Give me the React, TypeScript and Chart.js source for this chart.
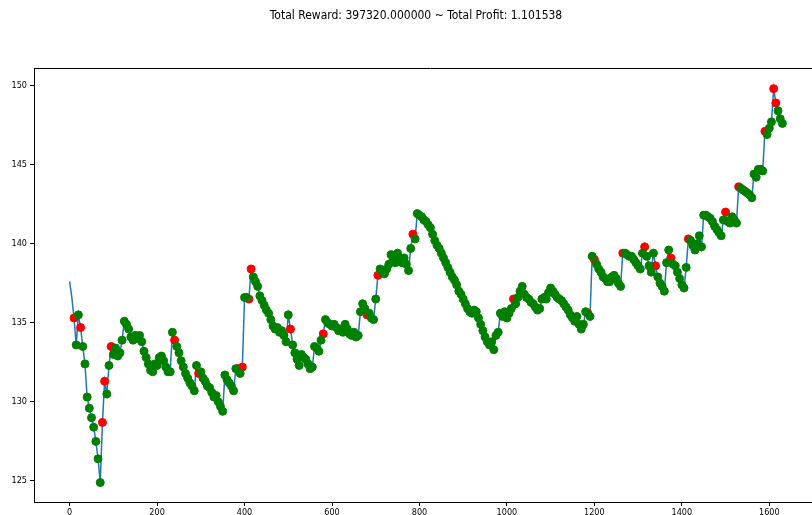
import React, { useEffect, useRef } from 'react';
import { Chart, registerables } from 'chart.js';

Chart.register(...registerables);

const TITLE = 'Total Reward: 397320.000000 ~ Total Profit: 1.101538';

// price sampled every TICK_STEP ticks, starting at tick 0
const TICK_STEP = 5;
const FIRST_POSITION_TICK = 10;

const prices: number[] = [
  137.6, 136.6, 135.3, 133.6, 135.5, 134.7, 133.5, 132.4, 130.3, 129.6, 129.0, 128.4, 127.5, 126.4, 124.9, 128.7, 131.3, 130.5, 132.3, 133.5,
  133.0, 133.4, 132.9, 133.1, 133.9, 135.1, 134.9, 134.6, 134.1, 133.9, 134.2, 134.0, 134.2, 133.8, 133.2, 132.8, 132.4, 132.0, 131.9, 132.4,
  132.3, 132.8, 132.9, 132.6, 132.2, 131.9, 131.9, 134.4, 133.9, 133.5, 133.1, 132.6, 132.2, 131.8, 131.5, 131.2, 131.0, 130.7, 132.3, 131.8,
  131.9, 131.5, 131.3, 131.0, 130.9, 130.6, 130.3, 130.4, 130.0, 129.7, 129.4, 131.7, 131.4, 131.2, 131.0, 130.7, 132.1, 132.1, 131.8, 132.2,
  136.6, 136.6, 136.5, 138.4, 137.9, 137.6, 137.3, 136.7, 136.4, 136.1, 135.8, 135.6, 135.2, 134.8, 134.6, 134.7, 134.4, 134.5, 134.2, 133.8,
  135.5, 134.6, 133.6, 133.1, 132.7, 132.3, 133.0, 132.8, 132.7, 132.4, 132.1, 132.2, 133.5, 133.4, 133.2, 133.9, 134.3, 135.2, 135.0, 134.9,
  134.8, 134.9, 134.7, 134.5, 134.6, 134.4, 134.9, 134.6, 134.3, 134.2, 134.4, 134.1, 134.2, 135.7, 136.2, 135.9, 135.5, 135.6, 135.3, 135.2,
  136.5, 138.0, 138.4, 138.2, 138.1, 138.4, 138.7, 139.3, 139.0, 138.8, 139.4, 139.0, 138.8, 139.1, 138.7, 138.3, 139.7, 140.6, 140.3, 141.9,
  141.8, 141.7, 141.5, 141.4, 141.2, 141.0, 140.6, 140.2, 139.9, 139.7, 139.4, 139.1, 138.8, 138.5, 138.2, 137.9, 137.7, 137.4, 137.0, 136.8,
  136.5, 136.2, 135.9, 135.7, 135.6, 135.8, 135.7, 135.3, 134.9, 134.5, 134.1, 133.8, 133.6, 133.8, 133.3, 134.2, 134.4, 135.6, 135.4, 135.7,
  135.3, 135.6, 135.9, 136.5, 136.2, 136.6, 137.0, 137.3, 136.8, 136.6, 136.5, 136.3, 136.2, 136.0, 135.8, 135.9, 136.5, 136.6, 136.5, 136.9,
  137.2, 137.0, 136.8, 136.6, 136.5, 136.4, 136.2, 136.0, 135.8, 135.5, 135.3, 135.1, 135.4, 134.9, 134.6, 134.9, 135.7, 135.6, 135.4, 139.2,
  139.0, 138.7, 138.4, 138.2, 137.9, 137.8, 137.6, 137.6, 137.9, 138.0, 137.8, 137.5, 137.3, 139.4, 139.4, 139.3, 139.2, 139.2, 139.0, 138.8,
  138.6, 138.4, 139.4, 139.8, 139.2, 138.6, 138.2, 139.4, 138.6, 137.9, 137.5, 137.3, 137.0, 138.8, 139.6, 139.1, 138.7, 138.6, 138.2, 137.8,
  137.4, 137.2, 138.5, 140.3, 140.2, 139.9, 139.6, 140.0, 140.5, 139.8, 141.8, 141.8, 141.7, 141.6, 141.4, 141.1, 140.9, 140.7, 140.5, 141.5,
  142.0, 141.4, 141.3, 141.7, 141.5, 141.3, 143.6, 143.5, 143.4, 143.3, 143.2, 143.1, 142.9, 144.4, 144.2, 144.7, 144.7, 144.6, 147.1, 146.9,
  147.3, 147.7, 149.8, 148.9, 148.4, 147.9, 147.6,
];

// ticks where the position was short (red); all other traded ticks are long (green)
const shortTicks: number[] = [
  10, 25, 75, 80, 95, 240, 295, 385, 395, 410, 415, 505, 580, 680, 705, 785,
  1015, 1185, 1200, 1265, 1315, 1340, 1375, 1415, 1500, 1530, 1590, 1610, 1615,
];

const xTickValues: number[] = [0, 200, 400, 600, 800, 1000, 1200, 1400, 1600];
const yTickValues: number[] = [125, 130, 135, 140, 145, 150];

const X_MIN = -81.5;
const X_MAX = 1732;
const Y_MIN = 123.67;
const Y_MAX = 151.08;

const FONT_FAMILY = "'Liberation Sans Narrow', 'DejaVu Sans Condensed', 'DejaVu Sans', sans-serif";

export default function App() {
  const ref = useRef<HTMLCanvasElement>(null);

  useEffect(() => {
    const pts = prices.map((p, i) => ({ x: i * TICK_STEP, y: p }));
    const shortSet = new Set(shortTicks);
    const traded = pts.filter((pt) => pt.x >= FIRST_POSITION_TICK);
    const red = traded.filter((pt) => shortSet.has(pt.x));
    const green = traded.filter((pt) => !shortSet.has(pt.x));

    const frame = {
      id: 'frame',
      afterDraw(chart: any) {
        const { ctx, chartArea } = chart;
        ctx.save();
        ctx.strokeStyle = '#000';
        ctx.lineWidth = 1;
        ctx.beginPath();
        ctx.moveTo(chartArea.left, Math.round(chartArea.top) + 0.5);
        ctx.lineTo(chartArea.right, Math.round(chartArea.top) + 0.5);
        ctx.stroke();
        ctx.restore();
      },
    };

    const tickFont = { family: FONT_FAMILY, size: 9 };
    const plainLabel = (v: any) => String(v);

    const chart = new Chart(ref.current as HTMLCanvasElement, {
      type: 'scatter',
      data: {
        datasets: [
          {
            type: 'line',
            data: pts,
            borderColor: '#1f77b4',
            borderWidth: 1.5,
            pointRadius: 0,
            tension: 0,
            order: 3,
          } as any,
          {
            data: red,
            backgroundColor: '#ff0000',
            borderColor: '#ff0000',
            pointRadius: 4,
            borderWidth: 1,
            order: 2,
          },
          {
            data: green,
            backgroundColor: '#008000',
            borderColor: '#008000',
            pointRadius: 4,
            borderWidth: 1,
            order: 1,
          },
        ],
      },
      options: {
        responsive: false,
        animation: false,
        devicePixelRatio: 1,
        layout: { padding: 0 },
        plugins: {
          legend: { display: false },
          tooltip: { enabled: false },
          title: {
            display: true,
            text: TITLE,
            color: '#000',
            font: { family: FONT_FAMILY, size: 12, weight: 'normal' },
            padding: { top: 9, bottom: 45 },
          },
        },
        scales: {
          x: {
            type: 'linear',
            min: X_MIN,
            max: X_MAX,
            afterBuildTicks: (s: any) => {
              s.ticks = xTickValues.map((v) => ({ value: v }));
            },
            afterFit: (s: any) => {
              s.height = 13;
            },
            grid: { display: true, drawOnChartArea: false, drawTicks: true, tickLength: 4, color: '#000' },
            border: { display: true, color: '#000', width: 1 },
            ticks: { font: tickFont, color: '#000', padding: 1, maxRotation: 0, autoSkip: false, callback: plainLabel },
          },
          y: {
            type: 'linear',
            min: Y_MIN,
            max: Y_MAX,
            afterBuildTicks: (s: any) => {
              s.ticks = yTickValues.map((v) => ({ value: v }));
            },
            afterFit: (s: any) => {
              s.width = 34;
            },
            grid: { display: true, drawOnChartArea: false, drawTicks: true, tickLength: 4, color: '#000' },
            border: { display: true, color: '#000', width: 1 },
            ticks: { font: tickFont, color: '#000', padding: 3, autoSkip: false, callback: plainLabel },
          },
        },
      } as any,
      plugins: [frame],
    });

    return () => chart.destroy();
  }, []);

  return (
    <div
      style={{
        position: 'absolute',
        left: 0,
        top: 0,
        width: 812,
        height: 515,
        overflow: 'hidden',
        background: '#fff',
      }}
    >
      <canvas ref={ref} width={832} height={515} style={{ display: 'block' }} />
    </div>
  );
}
